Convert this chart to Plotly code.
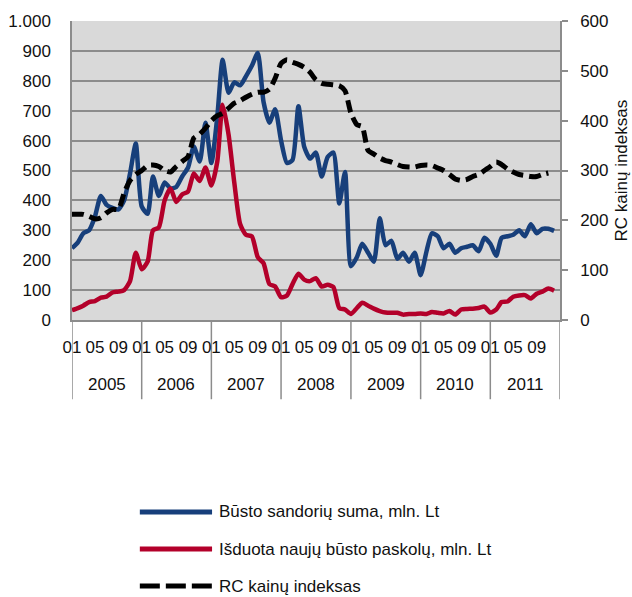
import plotly.graph_objects as go

years = [2005, 2006, 2007, 2008, 2009, 2010, 2011]
month_ticks = ["01", "05", "09"]

# Būsto sandorių suma, mln. Lt (left axis)
sandoriai = [240, 260, 290, 300, 345, 415, 385, 375, 370, 400, 490, 590,
             380, 355, 480, 415, 460, 440, 445, 480, 510, 580, 530, 660,
             525, 680, 870, 760, 795, 785, 815, 850, 893, 730, 660, 705,
             600, 525, 535, 715, 580, 540, 560, 480, 545, 560, 390, 495,
             180, 210, 255, 225, 195, 340, 250, 265, 205, 225, 195, 225,
             150, 230, 290, 280, 240, 255, 225, 240, 245, 250, 230, 275,
             255, 215, 275, 280, 285, 300, 280, 320, 290, 305, 305, 298]

# Išduota naujų būsto paskolų, mln. Lt (left axis)
paskolos = [33, 40, 48, 60, 63, 75, 78, 92, 95, 100, 130, 225,
            170, 195, 300, 310, 400, 440, 395, 420, 430, 490, 465, 510,
            450, 530, 720, 620, 460, 320, 285, 280, 210, 190, 120, 112,
            76, 82, 120, 155, 135, 130, 140, 112, 118, 110, 40, 35,
            20, 40, 58, 48, 38, 30, 25, 24, 24, 18, 20, 20,
            22, 20, 27, 24, 22, 30, 18, 35, 37, 38, 40, 45,
            25, 35, 60, 62, 78, 82, 83, 72, 88, 95, 105, 98]

# RC kainų indeksas (right axis)
rc_indeksas = [212, 212, 212, 208, 203, 205, 215, 222, 222, 255, 280, 292,
               300, 310, 311, 308, 300, 297, 308, 318, 328, 365, 373, 385,
               400, 410, 415, 425, 435, 440, 447, 453, 457, 457, 463, 485,
               515, 522, 517, 513, 507, 497, 482, 475, 473, 472, 470, 460,
               415, 392, 388, 340, 333, 325, 320, 317, 312, 308, 307, 307,
               310, 311, 310, 305, 300, 292, 283, 280, 282, 288, 292, 300,
               308, 317, 312, 303, 297, 292, 290, 288, 288, 292, 295, None]

series_names = ["Būsto sandorių suma, mln. Lt",
                "Išduota naujų būsto paskolų, mln. Lt",
                "RC kainų indeksas"]
colors = ["#173F7B", "#B3002A", "#000000"]

dates = [f"{y}-{m:02d}-01" for y in years for m in range(1, 13)]

FONT = "Liberation Sans, Arial, sans-serif"
TXT = "#111111"
GRID = "#8C8C8C"
TICK_SIZE = 17

fig = go.Figure()
fig.add_trace(go.Scatter(x=dates, y=sandoriai, name=series_names[0], mode="lines",
                         line=dict(color=colors[0], width=4.5, shape="spline", smoothing=0.6),
                         showlegend=False))
fig.add_trace(go.Scatter(x=dates, y=paskolos, name=series_names[1], mode="lines",
                         line=dict(color=colors[1], width=4.5, shape="spline", smoothing=0.6),
                         showlegend=False))
fig.add_trace(go.Scatter(x=dates, y=rc_indeksas, name=series_names[2], mode="lines",
                         line=dict(color=colors[2], width=5, dash="12px,6px", shape="spline", smoothing=0.6),
                         yaxis="y2", showlegend=False))

tickvals = [f"{y}-{m}-01" for y in years for m in month_ticks]
ticktext = [m for y in years for m in month_ticks]

# year dividers and labels
boundaries = [f"{y}-01-01" for y in years] + [f"{years[-1] + 1}-01-01"]
for b in boundaries:
    fig.add_shape(type="line", xref="x", yref="paper", x0=b, x1=b, y0=0, y1=-0.265,
                  line=dict(color=GRID, width=1.5), layer="below")
for y in years:
    fig.add_annotation(x=f"{y}-07-02", y=-0.217, xref="x", yref="paper", text=str(y),
                       showarrow=False, font=dict(family=FONT, size=TICK_SIZE, color=TXT),
                       yanchor="middle", xanchor="center")

# right axis title
fig.add_annotation(x=1.125, y=0.5, xref="paper", yref="paper", text="RC kainų indeksas",
                   textangle=-90, showarrow=False, font=dict(family=FONT, size=TICK_SIZE, color=TXT),
                   xanchor="center", yanchor="middle")

# legend (manual)
leg_y = [-0.642, -0.766, -0.890]
for i, name in enumerate(series_names):
    dash = "20px,6px" if i == 2 else "solid"
    fig.add_shape(type="line", xref="paper", yref="paper", x0=0.139, x1=0.287,
                  y0=leg_y[i], y1=leg_y[i],
                  line=dict(color=colors[i], width=5, dash=dash))
    fig.add_annotation(x=0.297, y=leg_y[i], xref="paper", yref="paper", text=name,
                       showarrow=False, xanchor="left", yanchor="middle",
                       font=dict(family=FONT, size=17, color=TXT))

fig.update_layout(
    width=632, height=597,
    margin=dict(l=72, r=72, t=21, b=277),
    paper_bgcolor="white", plot_bgcolor="#D9D9D9",
    font=dict(family=FONT, size=TICK_SIZE, color=TXT),
    showlegend=False,
    xaxis=dict(type="date", range=[boundaries[0], boundaries[-1]], automargin=False,
               tickmode="array", tickvals=tickvals, ticktext=ticktext,
               showgrid=False, zeroline=False, showline=True, linecolor=GRID, linewidth=1.5,
               ticks="", tickangle=0, ticklabelstandoff=11,
               tickfont=dict(family=FONT, size=TICK_SIZE, color=TXT)),
    yaxis=dict(range=[0, 1000], tickvals=list(range(0, 1001, 100)), automargin=False,
               ticktext=["0", "100", "200", "300", "400", "500", "600", "700", "800", "900", "1.000"],
               showgrid=True, gridcolor=GRID, gridwidth=1.5, zeroline=False,
               showline=True, linecolor=GRID, linewidth=1.5, ticks="",
               ticklabelstandoff=16, tickfont=dict(family=FONT, size=TICK_SIZE, color=TXT)),
    yaxis2=dict(range=[0, 600], tickvals=list(range(0, 601, 100)), overlaying="y", side="right",
                automargin=False,
                showgrid=False, zeroline=False, showline=True, linecolor=GRID, linewidth=1.5,
                ticks="outside", ticklen=6, tickcolor=GRID, tickwidth=1.5,
                ticklabelstandoff=9, tickfont=dict(family=FONT, size=TICK_SIZE, color=TXT)),
)

fig.write_html("out.html", config={"displayModeBar": False},
               post_script="document.body.style.margin='0';document.body.style.overflow='hidden';")
